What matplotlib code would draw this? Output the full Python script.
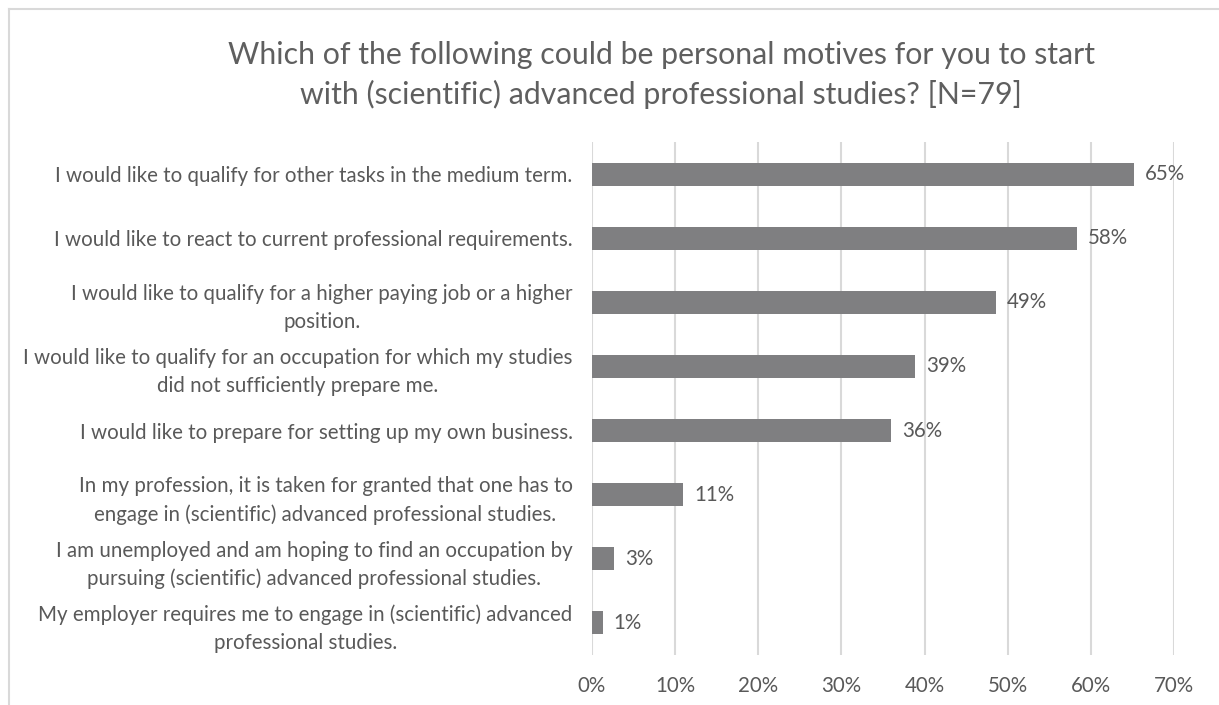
"""
Personal motives for starting (scientific) advanced professional studies, N=79.
Horizontal bar chart, Excel-like grey styling.
"""
import matplotlib
matplotlib.use("Agg")
import matplotlib.pyplot as plt
import matplotlib.ticker as mticker
from matplotlib.lines import Line2D

# ── data ────────────────────────────────────────────────────────────────────
motives = [
    "I would like to qualify for other tasks in the medium term.",
    "I would like to react to current professional requirements.",
    "I would like to qualify for a higher paying job or a higher\nposition.",
    "I would like to qualify for an occupation for which my studies\ndid not sufficiently prepare me.",
    "I would like to prepare for setting up my own business.",
    "In my profession, it is taken for granted that one has to\nengage in (scientific) advanced professional studies.",
    "I am unemployed and am hoping to find an occupation by\npursuing (scientific) advanced professional studies.",
    "My employer requires me to engage in (scientific) advanced\nprofessional studies.",
]
share = [0.652, 0.583, 0.486, 0.388, 0.360, 0.110, 0.027, 0.013]
title = ("Which of the following could be personal motives for you to start\n"
         "with (scientific) advanced professional studies? [N=79]")

BAR = "#7f7f81"
TXT = "#595959"
GRID = "#d9d9d9"
FS = 14.8

plt.rcParams["font.family"] = ["Lato", "DejaVu Sans"]

fig = plt.figure(figsize=(12.19, 7.05), dpi=100)
ax = fig.add_axes([0.4856, 0.0709, 0.4775, 0.7277])

y = list(range(len(motives)))
ax.barh(y, share, height=0.36, color=BAR, zorder=3)

for yi, v in zip(y, share):
    ax.annotate(f"{v * 100:.0f}%", (v, yi), xytext=(8, 0), textcoords="offset points",
                va="center", ha="left", fontsize=FS, color=TXT)

ax.set_xlim(0, 0.70)
ax.set_ylim(len(motives) - 0.5, -0.5)
ax.xaxis.set_major_locator(mticker.MultipleLocator(0.10))
ax.xaxis.set_major_formatter(mticker.FuncFormatter(lambda v, _: f"{v * 100:.0f}%"))
ax.set_yticks(y)
ax.set_yticklabels(motives)
for lab in ax.get_yticklabels():
    lab.set_multialignment("center")
    lab.set_linespacing(1.5)

ax.tick_params(axis="both", length=0, labelsize=FS, labelcolor=TXT)
ax.tick_params(axis="y", pad=14)
ax.tick_params(axis="x", pad=15)
ax.grid(axis="x", color=GRID, linewidth=1.5, zorder=0)
for s in ax.spines.values():
    s.set_visible(False)

fig.text(0.5423, 0.8936, title, ha="center", va="center", fontsize=21.8,
         color="#5f5f5f", linespacing=1.48)

# light frame (top and left edges of the chart area)
fig.add_artist(Line2D([9 / 1219, 1], [1 - 9 / 705, 1 - 9 / 705],
                      transform=fig.transFigure, color=GRID, linewidth=1.5))
fig.add_artist(Line2D([9 / 1219, 9 / 1219], [0, 1 - 9 / 705],
                      transform=fig.transFigure, color=GRID, linewidth=1.5))

fig.savefig("out.png", dpi=100)
plt.close()
